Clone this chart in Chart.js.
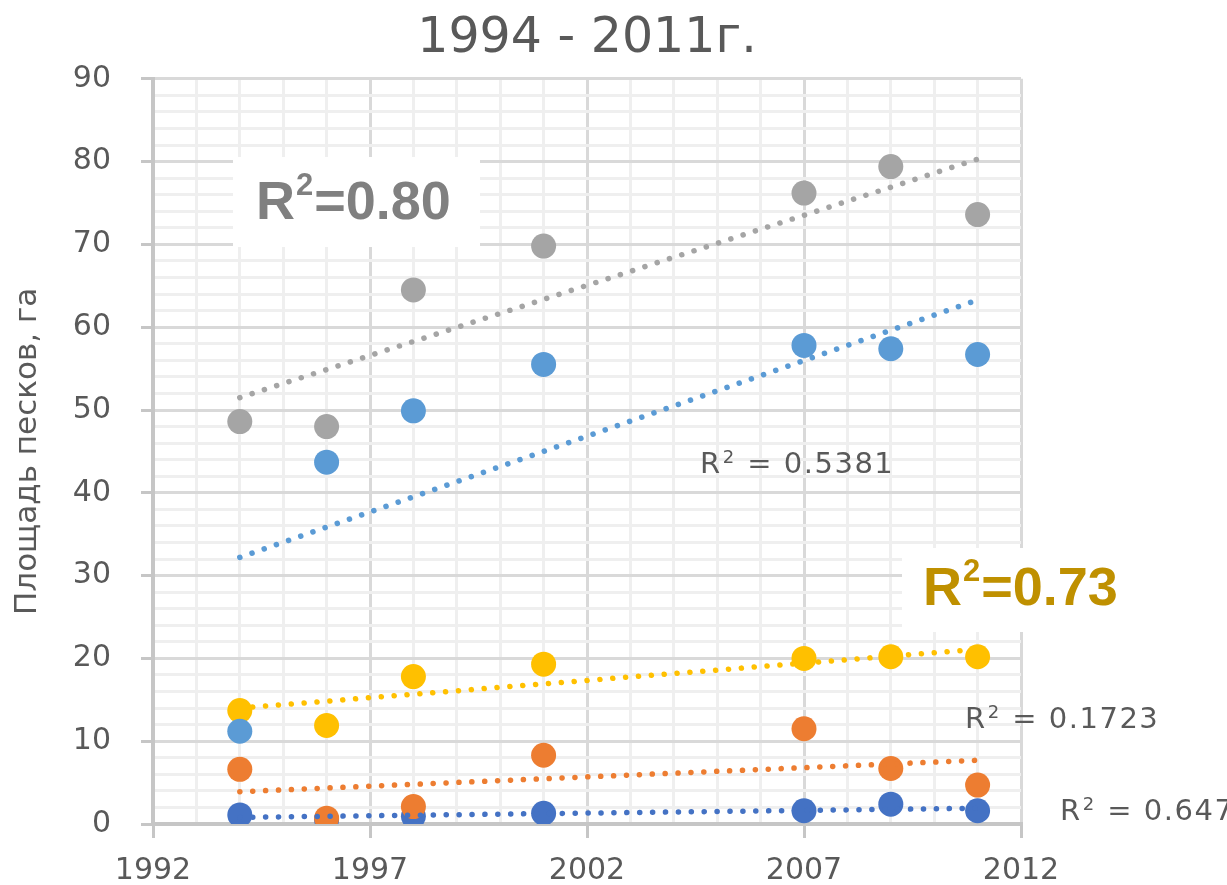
<!DOCTYPE html>
<html>
<head>
<meta charset="utf-8">
<script src="https://cdn.jsdelivr.net/npm/chart.js@4"></script>
<style>
  html, body { margin: 0; padding: 0; background: #fff; }
  canvas { display: block; }
</style>
</head>
<body>
<canvas id="myChart" width="1227" height="885"></canvas>
<script>
const years = [1994, 1996, 1998, 2001, 2007, 2009, 2011];
const darkBlueValues = [1.1, 0.5, 0.9, 1.3, 1.6, 2.4, 1.6];
const orangeValues = [6.6, 0.7, 2.1, 8.3, 11.5, 6.7, 4.7];
const greyValues = [48.6, 48.0, 64.5, 69.8, 76.2, 79.4, 73.6];
const goldValues = [13.7, 11.9, 17.8, 19.3, 20.0, 20.2, 20.2];
const lightBlueValues = [11.2, 43.7, 49.9, 55.5, 57.8, 57.4, 56.7];

// trend lines: [start at 1994, end at 2011]
const trendYears = [1994, 2011];
const greyTrend = [51.5, 80.3];
const lightBlueTrend = [32.2, 63.3];
const goldTrend = [14.0, 21.1];
const orangeTrend = [3.9, 7.7];
const darkBlueTrend = [0.8, 1.9];

const xMajorTicks = [1992, 1997, 2002, 2007, 2012];
const yMajorTicks = [0, 10, 20, 30, 40, 50, 60, 70, 80, 90];

const toPoints = (xs, ys) => xs.map((x, i) => ({ x: x, y: ys[i] }));

const pointSet = (label, values, color, order) => ({
  label: label,
  data: toPoints(years, values),
  backgroundColor: color,
  borderWidth: 0,
  pointRadius: 12.5,
  pointHoverRadius: 12.5,
  order: order
});

const trendSet = (label, values, color) => ({
  type: 'line',
  label: label,
  data: toPoints(trendYears, values),
  borderColor: color,
  borderWidth: 5.5,
  borderDash: [0.1, 12.8],
  borderCapStyle: 'round',
  pointRadius: 0,
  fill: false,
  order: 0
});

const isMajorX = v => xMajorTicks.includes(v);
const isMajorY = v => yMajorTicks.includes(v);

// "R" + raised "2" + rest of the label
const drawR2 = (ctx, x, y, font, supFont, rise, rest) => {
  ctx.font = font;
  ctx.fillText('R', x, y);
  x += ctx.measureText('R').width + 1;
  ctx.font = supFont;
  ctx.fillText('2', x, y - rise);
  x += ctx.measureText('2').width + 1;
  ctx.font = font;
  ctx.fillText(rest, x, y);
};

const notes = {
  id: 'notes',
  afterDatasetsDraw(chart) {
    const ctx = chart.ctx;
    ctx.save();
    ctx.textBaseline = 'alphabetic';
    ctx.textAlign = 'left';

    ctx.fillStyle = '#ffffff';
    ctx.fillRect(233, 157, 247, 90);
    ctx.fillRect(902, 548, 325, 84);

    const bold = 'bold 54px "Liberation Sans", Arial, sans-serif';
    const boldSup = 'bold 31px "Liberation Sans", Arial, sans-serif';
    ctx.fillStyle = '#808080';
    drawR2(ctx, 256, 219, bold, boldSup, 24, '=0.80');
    ctx.fillStyle = '#bf9000';
    drawR2(ctx, 923, 605, bold, boldSup, 24, '=0.73');

    const small = '29px "DejaVu Sans", sans-serif';
    const smallSup = '18px "DejaVu Sans", sans-serif';
    ctx.fillStyle = '#595959';
    ctx.letterSpacing = '1.5px';
    drawR2(ctx, 700, 473, small, smallSup, 10, ' = 0.5381');
    drawR2(ctx, 965, 728, small, smallSup, 10, ' = 0.1723');
    drawR2(ctx, 1060, 820, small, smallSup, 10, ' = 0.647');
    ctx.restore();
  }
};

const ctx = document.getElementById('myChart').getContext('2d');

const config = {
  type: 'scatter',
  data: {
    datasets: [
      trendSet('Тренд 3', greyTrend, '#a5a5a5'),
      trendSet('Тренд 5', lightBlueTrend, '#5b9bd5'),
      trendSet('Тренд 4', goldTrend, '#ffc000'),
      trendSet('Тренд 2', orangeTrend, '#ed7d31'),
      trendSet('Тренд 1', darkBlueTrend, '#4472c4'),
      pointSet('Ряд 5', lightBlueValues, '#5b9bd5', 1),
      pointSet('Ряд 4', goldValues, '#ffc000', 2),
      pointSet('Ряд 3', greyValues, '#a5a5a5', 3),
      pointSet('Ряд 2', orangeValues, '#ed7d31', 4),
      pointSet('Ряд 1', darkBlueValues, '#4472c4', 5)
    ]
  },
  options: {
    responsive: false,
    animation: false,
    layout: {
      padding: { left: 0, right: 206, top: 0, bottom: 0 }
    },
    scales: {
      x: {
        type: 'linear',
        min: 1992,
        max: 2012,
        afterFit(scale) { scale.height = 61; },
        ticks: {
          stepSize: 1,
          autoSkip: false,
          maxRotation: 0,
          padding: 15,
          color: '#595959',
          font: { family: '"DejaVu Sans", sans-serif', size: 30 },
          callback: v => isMajorX(v) ? String(v) : ''
        },
        grid: {
          color: c => isMajorX(c.tick.value) ? '#d9d9d9' : '#efefef',
          lineWidth: 3,
          tickLength: 14,
          tickColor: c => isMajorX(c.tick.value) ? '#c6c6c6' : 'rgba(0,0,0,0)',
          tickWidth: 3
        },
        border: { color: '#c6c6c6', width: 4 }
      },
      y: {
        min: 0,
        max: 90,
        afterFit(scale) { scale.width = 153; },
        title: {
          display: true,
          text: 'Площадь песков, га',
          color: '#595959',
          font: { family: '"DejaVu Sans", sans-serif', size: 31 },
          padding: { top: 9, bottom: 0 }
        },
        ticks: {
          stepSize: 2,
          autoSkip: false,
          padding: 30,
          color: '#595959',
          font: { family: '"DejaVu Sans", sans-serif', size: 30 },
          callback: v => isMajorY(v) ? String(v) : ''
        },
        grid: {
          color: c => isMajorY(c.tick.value) ? '#d9d9d9' : '#efefef',
          lineWidth: 3,
          tickLength: 12,
          tickColor: c => isMajorY(c.tick.value) ? '#c6c6c6' : 'rgba(0,0,0,0)',
          tickWidth: 3
        },
        border: { color: '#c6c6c6', width: 4 }
      }
    },
    plugins: {
      legend: { display: false },
      tooltip: { enabled: false },
      title: {
        display: true,
        text: '1994 - 2011г.',
        fullSize: false,
        color: '#595959',
        font: { family: '"DejaVu Sans", sans-serif', size: 49, weight: 'normal' },
        padding: { top: 10, bottom: 10 }
      }
    }
  },
  plugins: [notes]
};

new Chart(ctx, config);
</script>
</body>
</html>
